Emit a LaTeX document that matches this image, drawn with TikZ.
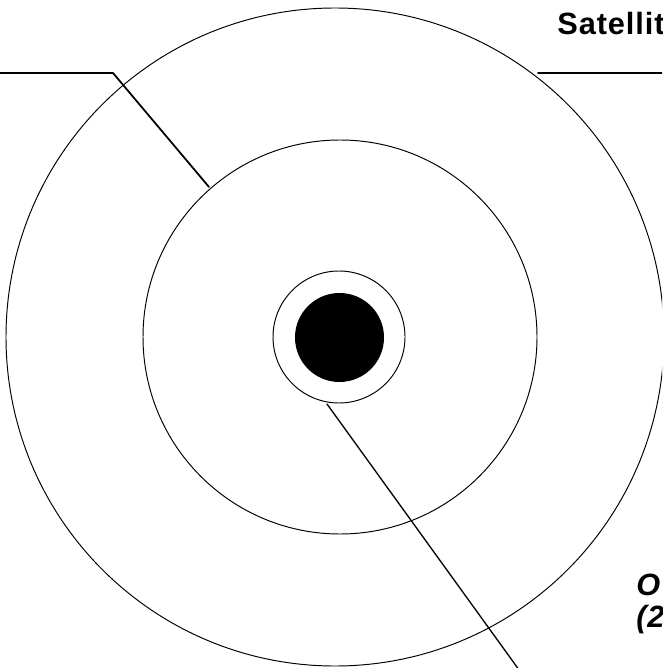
\documentclass[tikz,border=0pt]{standalone}
\usepackage{fontspec}
\newfontfamily\labelfont[LetterSpace=3]{Liberation Sans}
\begin{document}
\begin{tikzpicture}[line cap=round, line join=round, x=0.02cm, y=-0.02cm]
	\tikzset{ring/.style={line width=0.55pt}, leader/.style={line width=1pt}, label text/.style={font=\labelfont\bfseries\fontsize{17.5}{21}\selectfont, anchor=base west, inner sep=0pt}}
	\useasboundingbox (0,0) rectangle (662,668);
	\clip (0,0) rectangle (662,668);
	% layers
	\draw[ring] (335,337) circle (329);
	\draw[ring] (340,337) circle (197);
	\draw[ring] (339,337) circle (66);
	\fill (339.5,337.5) circle (44.5);
	% labels
	\node[label text] (sat) at (557,35) {Satellit};
	\node[label text, font=\labelfont\bfseries\itshape\fontsize{17.5}{21}\selectfont] (orb) at (636,595) {O};
	\node[label text, font=\labelfont\bfseries\itshape\fontsize{17.5}{21}\selectfont] (orbb) at (636,627) {(2};
	% leaders
	\coordinate (l0) at (-5,73);
	\coordinate (l1) at (113,73);
	\coordinate (l2) at (209,187);
	\coordinate (s1) at (538,73);
	\coordinate (s2) at (670,73);
	\coordinate (k1) at (327,404);
	\coordinate (k2) at (522,674);
	\draw[leader] (l0)--(l1)--(l2);
	\draw[leader] (s1)--(s2);
	\draw[line width=0.75pt] (k1)--(k2);
\end{tikzpicture}
\end{document}
